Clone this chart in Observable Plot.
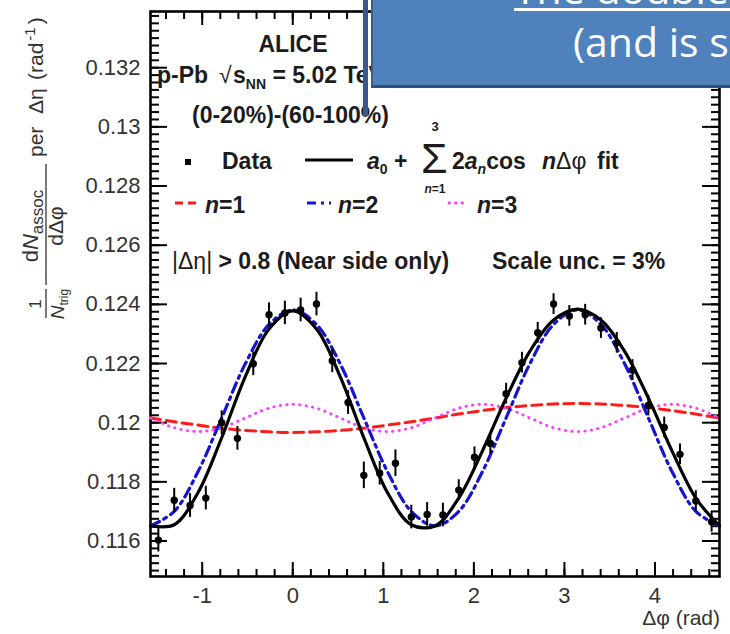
<!DOCTYPE html>
<html>
<head>
<meta charset="utf-8">
<script src="https://cdn.jsdelivr.net/npm/d3@7"></script>
<script src="https://cdn.jsdelivr.net/npm/@observablehq/plot@0.6"></script>
<style>
html,body{margin:0;padding:0;background:#fff;}
#wrap{position:relative;width:730px;height:634px;overflow:hidden;background:#fff;}
#wrap svg{position:absolute;left:0;top:0;}
.vbar{position:absolute;left:363px;top:0;width:5px;height:116px;background:#35598f;}
.box{position:absolute;left:371px;top:-3px;width:370px;height:91px;box-sizing:border-box;background:#4f81bd;border:2px solid #385d8a;border-bottom:3px solid #2f507c;}
.btxt{position:absolute;color:#fff;font-family:'Open Sans',sans-serif;font-size:41px;line-height:41px;white-space:nowrap;}
.uline{position:absolute;left:514px;top:8px;width:216px;height:2.5px;background:#fff;}
</style>
</head>
<body>
<div id="wrap"></div>
<script>
// ---- data ----
const phiBins = [-1.484,-1.309,-1.134,-0.960,-0.785,-0.611,-0.436,-0.262,-0.087,0.087,0.262,0.436,0.611,0.785,0.960,1.134,1.309,1.484,1.658,1.833,2.007,2.182,2.356,2.531,2.705,2.880,3.054,3.229,3.403,3.578,3.752,3.927,4.102,4.276,4.451,4.625];
const yieldVals = [0.11603,0.11738,0.11720,0.11745,0.12000,0.11947,0.12199,0.12365,0.12371,0.12381,0.12401,0.12209,0.12068,0.11822,0.11829,0.11863,0.11681,0.11690,0.11688,0.11772,0.11883,0.11930,0.12098,0.12203,0.12304,0.12401,0.12361,0.12365,0.12320,0.12270,0.12178,0.12058,0.11984,0.11893,0.11735,0.11665];
const yieldErr = [0.0004,0.0004,0.0004,0.0004,0.0004,0.0004,0.0004,0.0004,0.0004,0.0004,0.0004,0.0004,0.0004,0.00045,0.0004,0.00045,0.0004,0.0004,0.0004,0.00035,0.00035,0.00035,0.00035,0.00035,0.00035,0.00035,0.00035,0.00035,0.00035,0.00035,0.00035,0.00035,0.00035,0.00035,0.00035,0.00035];

const fitPhi = [-1.571,-1.309,-1.047,-0.785,-0.524,-0.262,0,0.262,0.524,0.785,1.047,1.309,1.571,1.833,2.094,2.356,2.618,2.880,3.142,3.403,3.665,3.927,4.189,4.451,4.712];
const fitTotal = [0.11651,0.11655,0.11763,0.11949,0.12156,0.12317,0.12378,0.12317,0.12156,0.11949,0.11763,0.11655,0.11651,0.11745,0.11904,0.12083,0.12241,0.12347,0.12384,0.12347,0.12241,0.12083,0.11904,0.11745,0.11651];
const fitN1 = [0.12016,0.12003,0.11992,0.11981,0.11974,0.11969,0.11967,0.11969,0.11974,0.11981,0.11992,0.12003,0.12016,0.12029,0.12041,0.12051,0.12058,0.12063,0.12065,0.12063,0.12058,0.12051,0.12041,0.12029,0.12016];
const fitN2 = [0.11651,0.11700,0.11834,0.12016,0.12199,0.12332,0.12381,0.12332,0.12199,0.12016,0.11834,0.11700,0.11651,0.11700,0.11834,0.12016,0.12199,0.12332,0.12381,0.12332,0.12199,0.12016,0.11834,0.11700,0.11651];
const fitN3 = [0.12016,0.11983,0.11970,0.11983,0.12016,0.12049,0.12062,0.12049,0.12016,0.11983,0.11970,0.11983,0.12016,0.12049,0.12062,0.12049,0.12016,0.11983,0.11970,0.11983,0.12016,0.12049,0.12062,0.12049,0.12016];

const yTicks = [0.116,0.118,0.12,0.122,0.124,0.126,0.128,0.13,0.132];
const xTicks = [-1,0,1,2,3,4];
const yMinor = d3.range(460, 536).map(i => i * 0.00025);
const xMinor = d3.range(-7, 24).map(i => i * 0.2);

// ---- tables ----
const points = phiBins.map((p, i) => ({phi: p, v: yieldVals[i], e: yieldErr[i]}));
const fits = fitPhi.map((p, i) => ({phi: p, total: fitTotal[i], n1: fitN1[i], n2: fitN2[i], n3: fitN3[i]}));

const FONT = "'Liberation Sans', Arial, Helvetica, sans-serif";
const TK = {stroke: "#000", strokeWidth: 2, fill: "none", label: null};

const chart = Plot.plot({
  width: 730, height: 634,
  marginLeft: 150, marginRight: 11, marginTop: 11, marginBottom: 58,
  x: {domain: [-1.5708, 4.7124]},
  y: {domain: [0.1148, 0.1339]},
  style: {fontFamily: FONT, background: "#fff", color: "#000"},
  marks: [
    Plot.axisY({anchor: "left", ticks: yTicks, tickSize: 0, tickPadding: 10, tickFormat: d => String(+d.toFixed(3)), fontSize: 22, fill: "#333", label: null}),
    Plot.axisX({anchor: "bottom", ticks: xTicks, tickSize: 0, tickPadding: 11, tickFormat: d => String(d), fontSize: 22, fill: "#333", label: null}),
    Plot.axisY({anchor: "left", ticks: yMinor, tickSize: 9, dx: 9, ...TK}),
    Plot.axisY({anchor: "left", ticks: yTicks, tickSize: 17, dx: 17, ...TK}),
    Plot.axisY({anchor: "right", ticks: yMinor, tickSize: 9, dx: -9, ...TK}),
    Plot.axisY({anchor: "right", ticks: yTicks, tickSize: 18, dx: -18, ...TK}),
    Plot.axisX({anchor: "bottom", ticks: xMinor, tickSize: 7, dy: -7, ...TK}),
    Plot.axisX({anchor: "bottom", ticks: xTicks, tickSize: 14, dy: -14, ...TK}),
    Plot.axisX({anchor: "top", ticks: xMinor, tickSize: 7, dy: 7, ...TK}),
    Plot.axisX({anchor: "top", ticks: xTicks, tickSize: 13, dy: 13, ...TK}),
    Plot.frame({stroke: "#000", strokeWidth: 2.6}),
    Plot.line(fits, {x: "phi", y: "n1", curve: "catmull-rom", stroke: "#ff1a1a", strokeWidth: 3, strokeDasharray: "10,6"}),
    Plot.line(fits, {x: "phi", y: "n3", curve: "catmull-rom", stroke: "#ff3cff", strokeWidth: 2.8, strokeDasharray: "0.5,6", strokeLinecap: "round"}),
    Plot.line(fits, {x: "phi", y: "n2", curve: "catmull-rom", stroke: "#1414d2", strokeWidth: 3.2, strokeDasharray: "10,5,3,5"}),
    Plot.line(fits, {x: "phi", y: "total", curve: "catmull-rom", stroke: "#000", strokeWidth: 3.2}),
    Plot.ruleX(points, {x: "phi", y1: d => d.v - d.e, y2: d => d.v + d.e, stroke: "#000", strokeWidth: 2}),
    Plot.dot(points, {x: "phi", y: "v", r: 3.7, fill: "#000", stroke: "none"})
  ]
});

const wrap = document.getElementById("wrap");
wrap.appendChild(chart);

// ---- annotations ----
const svg = d3.select(chart);
const ann = svg.append("g").attr("font-family", FONT).attr("fill", "#1c1c1c").attr("font-weight", "bold").attr("font-size", 23).attr("text-anchor", "start");

function t(x, y, s) {
  const el = ann.append("text").attr("x", x).attr("y", y);
  if (s != null) el.text(s);
  return el;
}
function span(el, s, o = {}) {
  const sp = el.append("tspan").text(s);
  for (const k in o) sp.attr(k, o[k]);
  return sp;
}

t(293, 52, "ALICE").attr("text-anchor", "middle");
t(157, 83, "p-Pb");
t(219, 83, "√").attr("font-weight", "normal");
{
  const e = t(233, 83, null);
  span(e, "s");
  span(e, "NN", {"font-size": 14, dy: 6});
  span(e, " = 5.02 TeV", {dy: -6});
}
t(192, 123, "(0-20%)-(60-100%)");

// row 1
ann.append("rect").attr("x", 185).attr("y", 159).attr("width", 6).attr("height", 6).attr("fill", "#000");
t(222, 169, "Data");
ann.append("line").attr("x1", 305).attr("x2", 353).attr("y1", 160).attr("y2", 160).attr("stroke", "#000").attr("stroke-width", 3);
{
  const e = t(367, 169, null);
  span(e, "a", {"font-style": "italic"});
  span(e, "0", {"font-size": 14, dy: 5});
  span(e, " +", {dy: -5});
}
t(421, 173, "Σ").attr("font-size", 43).attr("font-weight", "normal");
t(435, 131, "3").attr("font-size", 13).attr("text-anchor", "middle");
{
  const e = t(435, 193, null).attr("font-size", 12).attr("text-anchor", "middle");
  span(e, "n", {"font-style": "italic"});
  span(e, "=1");
}
{
  const e = t(452, 169, null);
  span(e, "2");
  span(e, "a", {"font-style": "italic"});
  span(e, "n", {"font-style": "italic", "font-size": 14, dy: 5});
  span(e, "cos", {dy: -5});
}
{
  const e = t(542, 169, null);
  span(e, "n", {"font-style": "italic"});
  span(e, "Δφ", {"font-weight": "normal"});
}
t(597, 169, "fit");

// row 2
ann.append("line").attr("x1", 175).attr("x2", 200).attr("y1", 203).attr("y2", 203).attr("stroke", "#ff1a1a").attr("stroke-width", 3).attr("stroke-dasharray", "8,5");
ann.append("line").attr("x1", 307).attr("x2", 331).attr("y1", 203).attr("y2", 203).attr("stroke", "#1414d2").attr("stroke-width", 3).attr("stroke-dasharray", "9,5,3,5");
ann.append("line").attr("x1", 449).attr("x2", 468).attr("y1", 203).attr("y2", 203).attr("stroke", "#ff3cff").attr("stroke-width", 2.8).attr("stroke-linecap", "round").attr("stroke-dasharray", "0.5,6");
[[205, "1"], [338, "2"], [477, "3"]].forEach(([x, k]) => {
  const e = t(x, 213, null);
  span(e, "n", {"font-style": "italic"});
  span(e, "=" + k);
});

// row 3
{
  const e = t(172, 269, null);
  span(e, "|Δη|", {"font-weight": "normal"});
  span(e, " > 0.8 (Near side only)");
}
t(492, 269, "Scale unc. = 3%");

// x label
svg.append("text").attr("x", 720).attr("y", 625).attr("text-anchor", "end").attr("font-family", FONT).attr("font-size", 21).attr("fill", "#333").text("Δφ (rad)");

// y label (rotated)
const yl = svg.append("g").attr("transform", "translate(43,318) rotate(-90)").attr("font-family", FONT).attr("fill", "#333").attr("font-size", 21).attr("text-anchor", "start");
yl.append("text").attr("x", 14).attr("y", -2).attr("text-anchor", "middle").attr("font-size", 17).text("1");
yl.append("line").attr("x1", 0).attr("x2", 29).attr("y1", 3).attr("y2", 3).attr("stroke", "#333").attr("stroke-width", 1.3);
{
  const e = yl.append("text").attr("x", 14).attr("y", 21).attr("text-anchor", "middle").attr("font-size", 19);
  span(e, "N", {"font-style": "italic"});
  span(e, "trig", {"font-size": 12, dy: 4});
}
{
  const e = yl.append("text").attr("x", 92).attr("y", -5).attr("text-anchor", "middle").attr("font-size", 22);
  span(e, "d");
  span(e, "N", {"font-style": "italic"});
  span(e, "assoc", {"font-size": 17, dy: 5});
}
yl.append("line").attr("x1", 33).attr("x2", 154).attr("y1", 3).attr("y2", 3).attr("stroke", "#333").attr("stroke-width", 1.3);
yl.append("text").attr("x", 92).attr("y", 20).attr("text-anchor", "middle").attr("font-size", 21).text("dΔφ");
yl.append("text").attr("x", 161).attr("y", 0).text("per");
yl.append("text").attr("x", 204).attr("y", 0).text("Δη");
{
  const e = yl.append("text").attr("x", 238).attr("y", 0);
  span(e, "(rad");
  span(e, "-1", {"font-size": 15, dy: -8, dx: 2});
  span(e, ")", {dy: 8, dx: 3});
}

// ---- slide overlay ----
function div(cls, txt, style) {
  const d = document.createElement("div");
  d.className = cls;
  if (txt) d.textContent = txt;
  if (style) d.setAttribute("style", style);
  wrap.appendChild(d);
  return d;
}
div("vbar");
div("box");
div("btxt", "The double", "left:514px;top:-32px;");
div("uline");
div("btxt", "(and is s", "left:573px;top:21px;");
</script>
</body>
</html>
